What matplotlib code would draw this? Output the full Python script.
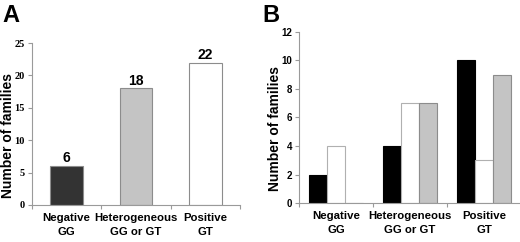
import numpy as np
import matplotlib.pyplot as plt

categories = ["Negative\nGG", "Heterogeneous\nGG or GT", "Positive\nGT"]

# panel A: total families per category
totals = [6, 18, 22]
totals_colors = ["#333333", "#c4c4c4", "#ffffff"]

# panel B: three series per category
series_black = [2, 4, 10]
series_white = [4, 7, 3]
series_gray = [0, 7, 9]

AXIS_GRAY = "#9a9a9a"
EDGE_GRAY = "#8c8c8c"


def style_axes(ax, ymax, ystep, tick_font, tick_size, label_xy):
    for side in ["top", "right"]:
        ax.spines[side].set_visible(False)
    for side in ["left", "bottom"]:
        ax.spines[side].set_color(AXIS_GRAY)
        ax.spines[side].set_linewidth(0.8)
    ax.set_xlim(-0.5, 2.5)
    ax.set_ylim(0, ymax)
    ax.set_yticks(np.arange(0, ymax + 1, ystep))
    ax.tick_params(axis="y", length=3, color=AXIS_GRAY, width=0.8, pad=2)
    for lab in ax.get_yticklabels():
        lab.set_fontfamily(tick_font)
        lab.set_fontweight("bold")
        lab.set_fontsize(tick_size)
    x = np.arange(len(categories))
    ax.set_xticks(x)
    ax.set_xticklabels(categories, fontsize=8.2, fontweight="bold",
                       fontfamily="Liberation Sans", linespacing=1.5)
    ax.tick_params(axis="x", length=0, pad=6)
    ax.set_xticks(np.arange(-0.5, 3, 1), minor=True)
    ax.tick_params(axis="x", which="minor", length=3, color=AXIS_GRAY, width=0.8)
    ax.set_ylabel("Number of families", fontsize=10, fontweight="bold",
                  fontfamily="Liberation Sans")
    ax.yaxis.set_label_coords(*label_xy)


fig = plt.figure(figsize=(5.2, 2.42), dpi=100)

# panel A
axA = fig.add_axes([0.0615, 0.153, 0.4, 0.669])
x = np.arange(len(categories))
axA.bar(x, totals, width=0.47, color=totals_colors,
        edgecolor=EDGE_GRAY, linewidth=0.8)
for xi, v in zip(x, totals):
    axA.text(xi, v + 0.6, str(v), ha="center", va="baseline", fontsize=10,
             fontweight="bold", fontfamily="Liberation Sans")
style_axes(axA, 25, 5, "Liberation Serif", 7.5, (-0.084, 0.43))
fig.text(0.004, 0.985, "A", fontsize=17, fontweight="bold",
         fontfamily="Liberation Sans", va="top", ha="left")

# panel B
axB = fig.add_axes([0.575, 0.161, 0.427, 0.707])
w = 0.24
axB.bar(x - w, series_black, width=w, color="#000000",
        edgecolor="#000000", linewidth=0.8)
axB.bar(x, series_white, width=w, color="#ffffff",
        edgecolor="#b0b0b0", linewidth=0.8)
axB.bar(x + w, series_gray, width=w, color="#c4c4c4",
        edgecolor=EDGE_GRAY, linewidth=0.8)
style_axes(axB, 12, 2, "Liberation Sans", 7, (-0.078, 0.435))
fig.text(0.504, 0.985, "B", fontsize=17, fontweight="bold",
         fontfamily="Liberation Sans", va="top", ha="left")

fig.savefig("out.png", dpi=100)
